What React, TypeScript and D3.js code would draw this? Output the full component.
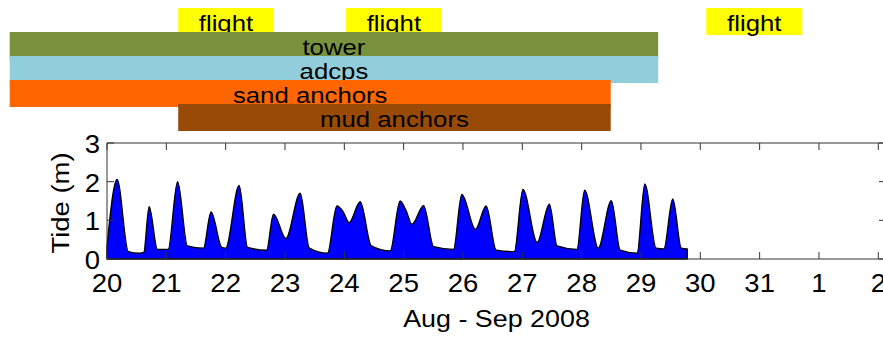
import React from 'react'
import * as d3 from 'd3'

const width = 883
const height = 337

// days counted from 20 Aug 2008 00:00 UTC
const start = Date.UTC(2008, 7, 20)
const day = 864e5
const toDate = (d: number) => new Date(start + d * day)

// deployment bars (top panel)
const barLabels = ['flight', 'flight', 'flight', 'tower', 'adcps', 'sand anchors', 'mud anchors']
const barRow = [0, 0, 0, 1, 2, 3, 4]
const barStart = [1.2, 4.03, 10.1, -1.64, -1.64, -1.64, 1.2]
const barEnd = [2.81, 5.64, 11.72, 9.29, 9.29, 8.49, 8.49]
const barColor = ['#ffff00', '#ffff00', '#ffff00', '#78923e', '#92cddc', '#ff6600', '#994a06']

// tide record
const tideDay = [
  0, 0.17, 0.36, 0.55, 0.62, 0.71, 0.85, 1.03, 1.19, 1.355, 1.625, 1.754, 1.935, 2.0, 2.227,
  2.37, 2.69, 2.806, 3.015, 3.256, 3.41, 3.716, 3.875, 3.98, 4.08, 4.268, 4.454, 4.774, 4.94,
  5.04, 5.14, 5.336, 5.505, 5.84, 5.98, 6.21, 6.39, 6.56, 6.866, 7.01, 7.25, 7.456, 7.586,
  7.92, 8.05, 8.28, 8.5, 8.65, 8.935, 9.065, 9.255, 9.385, 9.536, 9.68, 9.78
]
const tideLevel = [
  0.32, 2.06, 0.19, 0.15, 0.17, 1.35, 0.25, 0.25, 2.0, 0.34, 0.28, 1.22, 0.3, 0.28, 1.9,
  0.3, 0.23, 1.16, 0.53, 1.7, 0.28, 0.15, 1.37, 1.22, 0.94, 1.48, 0.34, 0.21, 1.5,
  1.25, 0.9, 1.38, 0.32, 0.25, 1.67, 0.77, 1.37, 0.23, 0.19, 1.8, 0.43, 1.42, 0.34,
  0.25, 1.78, 0.28, 1.51, 0.23, 0.15, 1.94, 0.28, 0.26, 1.55, 0.28, 0.26
]
const yTicks = [0, 1, 2, 3]

const font = '"Liberation Sans", Arial, sans-serif'
const axisColor = '#333'

const App = () => {
  const x = d3.scaleUtc().domain([toDate(0), toDate(13.13)]).range([107, 886])
  const y = d3.scaleLinear().domain([0, 3]).range([259, 143])
  const rowTop = d3.scaleLinear().domain([0, 4]).range([8, 104])
  const barH = 27

  const xTicks = x.ticks(d3.utcDay.every(1)!)
  const fmt = d3.utcFormat('%-d')

  const tide = tideDay.map((d, i) => ({ t: toDate(d), v: tideLevel[i] }))
  const area = d3.area<{ t: Date; v: number }>()
    .x(d => x(d.t))
    .y0(y(0))
    .y1(d => y(d.v))
    .curve(d3.curveMonotoneX)

  const [x0, x1] = x.range()
  const [yb, yt] = y.range()

  return (
    <svg width={width} height={height} style={{ position: 'absolute', left: 0, top: 0 }} fontFamily={font}>
      <rect width={width} height={height} fill="#fff" />
      {barLabels.map((lab, i) => {
        const a = x(toDate(barStart[i]))
        const b = x(toDate(barEnd[i]))
        const top = rowTop(barRow[i])
        return (
          <g key={i}>
            <rect x={a} y={top} width={b - a} height={barH} fill={barColor[i]} />
            <text transform={`translate(${(a + b) / 2},${top + 22.5}) scale(1.12,1)`}
              textAnchor="middle" fontSize={23} fill="#000">{lab}</text>
          </g>
        )
      })}

      <path d={area(tide) ?? ''} fill="#0000ff" stroke="#000" strokeWidth={1.4} strokeLinejoin="round" />

      <line x1={x0} x2={x1} y1={yt} y2={yt} stroke={axisColor} />
      <line x1={x0} x2={x1} y1={yb} y2={yb} stroke={axisColor} />
      <line x1={x0} x2={x0} y1={yt} y2={yb} stroke={axisColor} />
      <line x1={x1} x2={x1} y1={yt} y2={yb} stroke={axisColor} />
      {xTicks.map((t, i) => (
        <g key={i}>
          <line x1={x(t)} x2={x(t)} y1={yt} y2={yt + 7} stroke={axisColor} />
          <line x1={x(t)} x2={x(t)} y1={yb} y2={yb - 7} stroke={axisColor} />
          <text transform={`translate(${x(t)},292) scale(1.1,1)`} textAnchor="middle" fontSize={25}>
            {fmt(t)}
          </text>
        </g>
      ))}
      {yTicks.map(v => (
        <g key={v}>
          <line x1={x0} x2={x0 + 7} y1={y(v)} y2={y(v)} stroke={axisColor} />
          <line x1={x1} x2={x1 - 7} y1={y(v)} y2={y(v)} stroke={axisColor} />
          <text transform={`translate(100,${y(v) + 10}) scale(1.1,1)`} textAnchor="end" fontSize={25}>
            {v}
          </text>
        </g>
      ))}
      <text transform={`translate(${(x0 + x1) / 2},327) scale(1.12,1)`} textAnchor="middle" fontSize={24}>
        Aug - Sep 2008
      </text>
      <text transform={`translate(69,203) rotate(-90) scale(1.12,1)`} textAnchor="middle" fontSize={24.5}>
        Tide (m)
      </text>
    </svg>
  )
}

export default App
